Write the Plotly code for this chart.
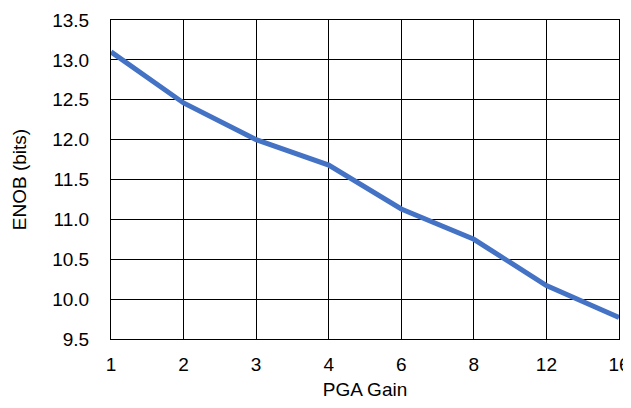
import plotly.graph_objects as go

gain_labels = ["1", "2", "3", "4", "6", "8", "12", "16"]
enob = [13.10, 12.46, 12.00, 11.68, 11.13, 10.75, 10.17, 9.77]
y_ticks = [9.5, 10.0, 10.5, 11.0, 11.5, 12.0, 12.5, 13.0, 13.5]

x_pos = list(range(len(gain_labels)))

fig = go.Figure()
fig.add_trace(go.Scatter(
    x=x_pos, y=enob, mode="lines",
    line=dict(color="#4472C4", width=5),
    showlegend=False, cliponaxis=False,
))

fig.update_layout(
    width=623, height=392,
    margin=dict(l=103, r=12, t=12, b=61, autoexpand=False),
    paper_bgcolor="white", plot_bgcolor="white",
    font=dict(family="Liberation Sans, Arial, sans-serif", size=19, color="black"),
    xaxis=dict(
        range=[0, len(gain_labels) - 1],
        tickmode="array", tickvals=x_pos, ticktext=gain_labels,
        showgrid=True, gridcolor="black", gridwidth=1,
        showline=True, linecolor="black", linewidth=1, mirror=True,
        zeroline=False, ticks="", ticklen=0, ticklabelstandoff=8,
        ticklabeloverflow="allow",
        title=dict(text="PGA Gain", font=dict(size=19), standoff=9),
    ),
    yaxis=dict(
        range=[9.5, 13.5],
        tickmode="array", tickvals=y_ticks,
        ticktext=[f"{v:.1f}" for v in y_ticks],
        showgrid=True, gridcolor="black", gridwidth=1,
        showline=True, linecolor="black", linewidth=1, mirror=True,
        zeroline=False, ticks="", ticklen=0, ticklabelstandoff=17,
        ticklabeloverflow="allow",
        title=dict(text="ENOB (bits)", font=dict(size=19), standoff=20),
    ),
)

fig.write_html("out.html")
